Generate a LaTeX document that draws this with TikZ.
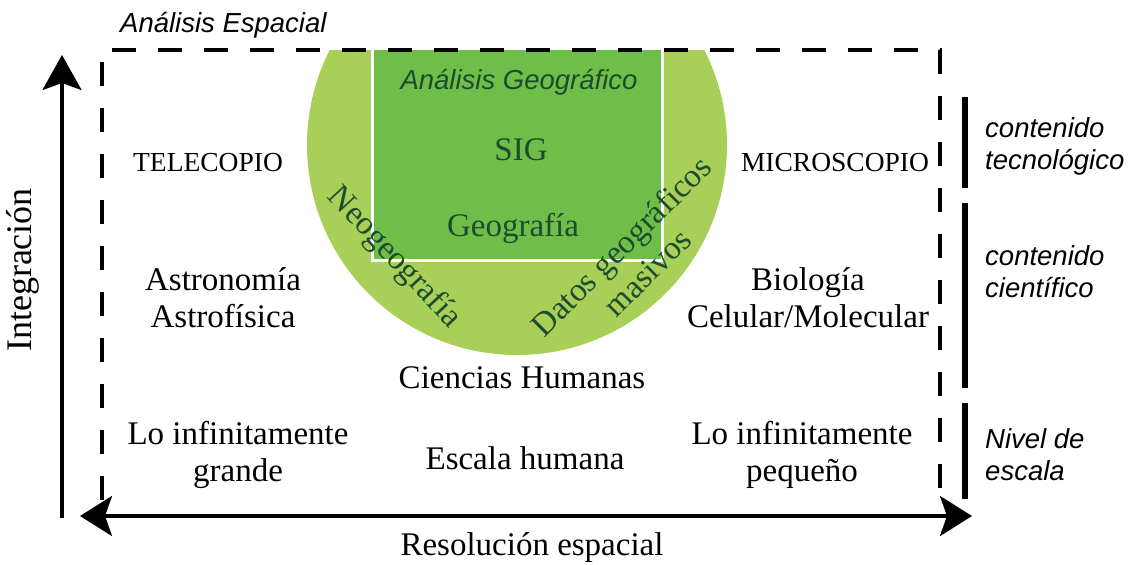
\documentclass[tikz,border=0pt]{standalone}
\usepackage{fontspec}
\setmainfont{Liberation Serif}
\newfontfamily\hv{Liberation Sans}
\usetikzlibrary{arrows.meta}
\definecolor{lightg}{RGB}{168,207,88}
\definecolor{darkg}{RGB}{112,190,74}
\definecolor{txtg}{RGB}{28,75,45}
\begin{document}
\begin{tikzpicture}[x=1pt,y=-1pt,
  serif/.style={inner sep=0pt,align=center,font=\fontsize{33}{37}\selectfont},
  caps/.style={inner sep=0pt,font=\fontsize{27.5}{30}\selectfont},
  sansit/.style={inner sep=0pt,align=left,font=\hv\itshape\fontsize{27.5}{32}\selectfont},
  green text/.style={text=txtg},
  dashbox/.style={line width=3.5pt,dash pattern=on 24pt off 22pt},
  bar/.style={line width=6pt},
  axis/.style={line width=3.2pt}
]
\useasboundingbox (0,0) rectangle (1130,565);
% green disc clipped at top line
\begin{scope}
  \clip (0,50) rectangle (1130,565);
  \fill[lightg] (517,145) circle[radius=210];
\end{scope}
\fill[darkg] (372,50) rectangle (662,260);
\draw[white,line width=3pt] (372,50) -- (372,260) -- (662,260) -- (662,50);
% dashed frame
\coordinate (fbl) at (102,500);
\coordinate (ftl) at (102,50);
\coordinate (ftr) at (940,50);
\coordinate (fbr) at (940,500);
\draw[dashbox] (fbl) -- (ftl) -- (ftr) -- (fbr);
% axes
\coordinate (yb) at (62,518);
\coordinate (yt) at (62,55);
\coordinate (xl) at (80,516);
\coordinate (xr) at (972,516);
\draw[axis,-{Stealth[length=35pt,width=39pt,inset=7pt]}] (yb) -- (yt);
\draw[axis,{Stealth[length=32pt,width=40pt,inset=7pt]}-{Stealth[length=32pt,width=40pt,inset=7pt]}] (xl) -- (xr);
% right bars
\coordinate (b1t) at (965,97);  \coordinate (b1b) at (965,188);
\coordinate (b2t) at (965,203); \coordinate (b2b) at (965,388);
\coordinate (b3t) at (965,403); \coordinate (b3b) at (965,499);
\draw[bar] (b1t) -- (b1b);
\draw[bar] (b2t) -- (b2b);
\draw[bar] (b3t) -- (b3b);
% texts
\node[sansit,anchor=west] (ae) at (120,25) {Análisis Espacial};
\node[sansit,green text] (ag) at (519,82) {Análisis Geográfico};
\node[serif,green text] (sig) at (521,150) {SIG};
\node[serif,green text] (geo) at (513,228) {Geografía};
\node[serif,green text,rotate=-47] (neo) at (394,258) {Neogeografía};
\node[serif,green text,rotate=45,align=center] (dgm) at (634,259) {Datos geográficos\\masivos};
\node[caps] (tel) at (208,163) {TELECOPIO};
\node[caps] (mic) at (835,163) {MICROSCOPIO};
\node[serif] (ast) at (223,298) {Astronomía\\Astrofísica};
\node[serif] (bio) at (808,298) {Biología\\Celular/Molecular};
\node[serif] (ch) at (522,378) {Ciencias Humanas};
\node[serif] (lig) at (238,455) {Lo infinitamente\\grande};
\node[serif] (eh) at (525,458) {Escala humana};
\node[serif] (lip) at (802,455) {Lo infinitamente\\pequeño};
\node[serif] (res) at (532,548) {Resolución espacial};
\node[serif,rotate=90,font=\fontsize{36}{40}\selectfont] (int) at (23,270) {Integración};
\node[sansit,anchor=west] (ct) at (985,146) {contenido\\tecnológico};
\node[sansit,anchor=west] (cc) at (985,272) {contenido\\científico};
\node[sansit,anchor=west] (ne) at (985,455) {Nivel de\\escala};
\end{tikzpicture}
\end{document}
